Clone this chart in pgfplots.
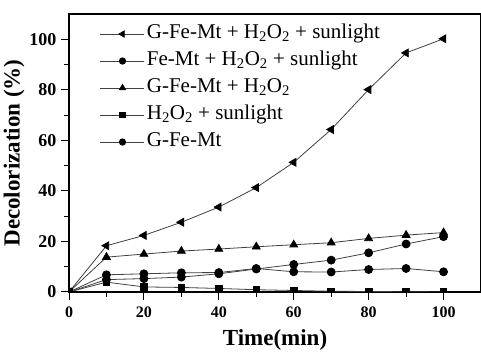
\documentclass[border=0pt]{standalone}
\usepackage{pgfplots}
\pgfplotsset{compat=1.18}
\usepackage{fontspec}
\setmainfont{Liberation Serif}
\begin{document}
\begin{tikzpicture}
\useasboundingbox (-69pt,-60pt) rectangle (412pt,292pt);
\begin{axis}[
  scale only axis, width=412pt, height=278pt,
  xmin=0, xmax=110, ymin=0, ymax=110,
  xtick={0,20,...,100}, ytick={0,20,...,100},
  minor x tick num=1, minor y tick num=1,
  xtick pos=bottom, ytick pos=left,
  tick align=outside,
  major tick length=8pt, minor tick length=5pt,
  every tick/.style={black, line width=1pt},
  axis line style={line width=1.2pt},
  /pgf/number format/assume math mode=true,
  xticklabel style={font=\fontsize{16}{17}\selectfont\bfseries, yshift=-3pt},
  yticklabel style={font=\fontsize{18}{19}\selectfont\bfseries, xshift=-1pt},
  xlabel={Time(min)}, ylabel={Decolorization (\%)},
  label style={font=\fontsize{23}{24}\selectfont\bfseries},
  xlabel style={at={(0.5,0)}, anchor=base, yshift=-54pt},
  ylabel style={yshift=-2pt},
  clip marker paths=true,
  every axis plot/.append style={line width=0.8pt, color=black!75, mark options={fill=black, draw=black, solid}},
  legend style={at={(0.075,0.97)}, anchor=north west, draw=none, fill=none,
    font=\fontsize{21}{23}\selectfont, inner sep=0pt, row sep=4pt,
    nodes={text height=14pt, text depth=5pt, inner sep=2pt}},
  legend cell align=left,
  legend image code/.code={\draw[mark repeat=2,mark phase=2, every mark/.append style={scale=0.8}] plot coordinates {(0pt,0pt)(22pt,0pt)(44pt,0pt)};},
]
\addplot[mark=triangle*, mark options={rotate=90, fill=black, draw=black, solid}, mark size=4.5pt] coordinates {
(0,0)(10,18.3)(20,22.4)(30,27.6)(40,33.6)(50,41.3)(60,51.3)(70,64.3)(80,80.1)(90,94.6)(100,100.2)};
\addlegendentry{G-Fe-Mt + H\textsubscript{2}O\textsubscript{2} + sunlight}
\addplot[mark=*, mark size=4pt] coordinates {
(0,0)(10,4.9)(20,5.3)(30,5.9)(40,7.2)(50,9.1)(60,10.9)(70,12.6)(80,15.5)(90,19.0)(100,21.9)};
\addlegendentry{Fe-Mt + H\textsubscript{2}O\textsubscript{2} + sunlight}
\addplot[mark=triangle*, mark size=4.5pt] coordinates {
(0,0)(10,13.8)(20,15.0)(30,16.2)(40,17.0)(50,17.9)(60,18.7)(70,19.5)(80,21.2)(90,22.5)(100,23.5)};
\addlegendentry{G-Fe-Mt + H\textsubscript{2}O\textsubscript{2}}
\addplot[mark=square*, mark size=3.3pt] coordinates {
(0,0)(10,3.9)(20,2.0)(30,1.8)(40,1.4)(50,0.9)(60,0.6)(70,0.3)(80,0.2)(90,0.1)(100,0.0)};
\addlegendentry{H\textsubscript{2}O\textsubscript{2} + sunlight}
\addplot[mark=*, mark size=4pt] coordinates {
(0,0)(10,6.8)(20,7.2)(30,7.6)(40,7.7)(50,9.3)(60,8.0)(70,7.9)(80,8.9)(90,9.3)(100,8.0)};
\addlegendentry{G-Fe-Mt}
\end{axis}
\end{tikzpicture}
\end{document}
